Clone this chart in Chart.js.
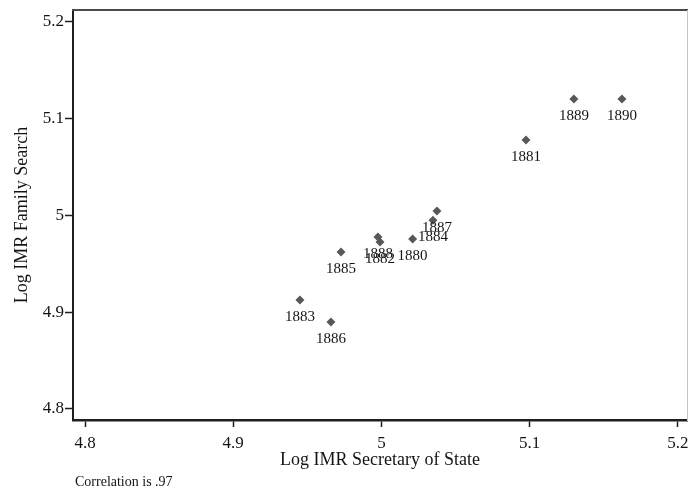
<!DOCTYPE html>
<html>
<head>
<meta charset="utf-8">
<script src="https://cdn.jsdelivr.net/npm/chart.js"></script>
<style>
  body { margin: 0; background: #fff; }
  canvas { display: block; }
</style>
</head>
<body>
<canvas id="c" width="688" height="492"></canvas>
<script>
"use strict";

// years and log infant mortality rates from the two sources
const years = ['1880', '1881', '1882', '1883', '1884', '1885', '1886', '1887', '1888', '1889', '1890'];
const secretaryOfState = [5.021, 5.0975, 4.999, 4.945, 5.0347, 4.9727, 4.9659, 5.0374, 4.9976, 5.1298, 5.1622];
const familySearch = [4.9757, 5.078, 4.9726, 4.9127, 4.995, 4.9623, 4.8899, 5.0047, 4.9778, 5.1204, 5.1204];
const xTicks = [4.8, 4.9, 5.0, 5.1, 5.2];
const yTicks = [4.8, 4.9, 5.0, 5.1, 5.2];
const note = 'Correlation is .97';

const SERIF = "'Liberation Serif', 'Times New Roman', serif";
const INK = '#141414';

Chart.defaults.font.family = SERIF;
Chart.defaults.color = INK;

const points = years.map((y, i) => ({ x: secretaryOfState[i], y: familySearch[i] }));

function fmt(v) {
    return String(+v.toFixed(1));
}

// year labels under each marker + the correlation note
const labelPlugin = {
    id: 'yearLabels',
    afterDatasetsDraw(chart) {
        const ctx = chart.ctx;
        const meta = chart.getDatasetMeta(0);
        ctx.save();
        ctx.font = '15px ' + SERIF;
        ctx.fillStyle = INK;
        ctx.textAlign = 'center';
        ctx.textBaseline = 'middle';
        meta.data.forEach((pt, i) => {
            ctx.fillText(years[i], pt.x, pt.y + 17);
        });
        ctx.restore();
    },
    afterDraw(chart) {
        const ctx = chart.ctx;
        ctx.save();
        ctx.font = '14px ' + SERIF;
        ctx.fillStyle = INK;
        ctx.textAlign = 'left';
        ctx.textBaseline = 'middle';
        ctx.fillText(note, 75, 482);
        ctx.restore();
    }
};

new Chart(document.getElementById('c'), {
    type: 'scatter',
    data: {
        datasets: [{
            label: 'Log IMR',
            data: points,
            pointStyle: 'rectRot',
            pointRadius: 4.5,
            pointHoverRadius: 4.5,
            backgroundColor: '#585858',
            borderColor: '#585858',
            borderWidth: 0
        }]
    },
    options: {
        responsive: false,
        animation: false,
        layout: { autoPadding: false, padding: { top: 10, right: 1, left: 0, bottom: 0 } },
        plugins: {
            legend: { display: false },
            tooltip: { enabled: false }
        },
        scales: {
            x: {
                type: 'linear',
                position: 'bottom',
                min: 4.7919,
                max: 5.2061,
                afterBuildTicks: s => { s.ticks = xTicks.map(v => ({ value: v })); },
                afterFit: s => { s.height = 72; s.paddingLeft = 0; s.paddingRight = 0; },
                border: { display: true, color: '#1e1e1e', width: 2.5 },
                grid: { drawOnChartArea: false, drawTicks: true, tickLength: 7, color: '#1e1e1e', tickWidth: 1.5 },
                ticks: { font: { size: 17 }, color: INK, padding: 6, maxRotation: 0, callback: v => fmt(v) },
                title: {
                    display: true,
                    text: 'Log IMR Secretary of State',
                    font: { size: 18 },
                    color: INK,
                    padding: { top: 21, bottom: 21 }
                }
            },
            y: {
                type: 'linear',
                position: 'left',
                min: 4.7886,
                max: 5.2124,
                afterBuildTicks: s => { s.ticks = yTicks.map(v => ({ value: v })); },
                afterFit: s => { s.width = 73; s.paddingTop = 0; s.paddingBottom = 0; },
                border: { display: true, color: '#1e1e1e', width: 2 },
                grid: { drawOnChartArea: false, drawTicks: true, tickLength: 8, color: '#1e1e1e', tickWidth: 1.5 },
                ticks: { font: { size: 17 }, color: INK, padding: 1, callback: v => fmt(v) },
                title: {
                    display: true,
                    text: 'Log IMR Family Search',
                    font: { size: 18 },
                    color: INK,
                    padding: { top: 11, bottom: 11 }
                }
            },
            xTop: {
                type: 'linear',
                position: 'top',
                afterFit: s => { s.height = 0; s.paddingLeft = 0; s.paddingRight = 0; },
                border: { display: true, color: '#4a4a4a', width: 2 },
                grid: { display: false },
                ticks: { display: false }
            },
            yRight: {
                type: 'linear',
                position: 'right',
                afterFit: s => { s.width = 0; s.paddingTop = 0; s.paddingBottom = 0; },
                border: { display: true, color: '#c4c4c4', width: 1 },
                grid: { display: false },
                ticks: { display: false }
            }
        }
    },
    plugins: [labelPlugin]
});
</script>
</body>
</html>
